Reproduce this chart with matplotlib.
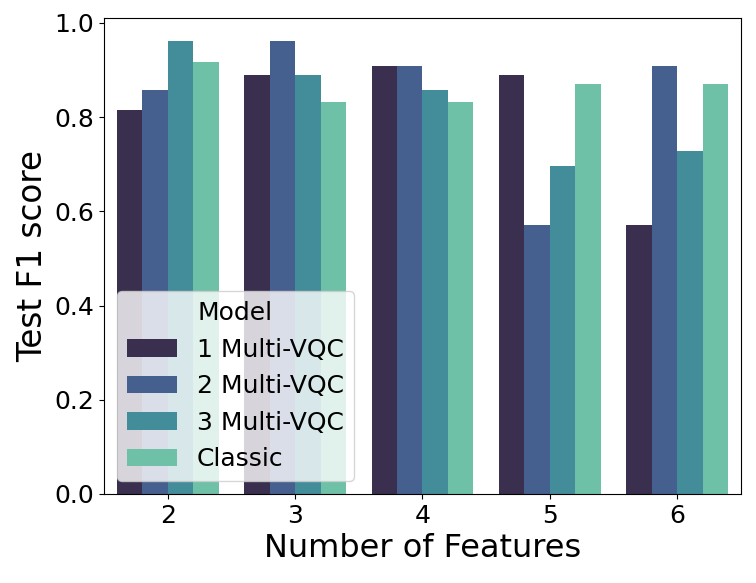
import matplotlib
matplotlib.use("Agg")
import matplotlib.pyplot as plt
import seaborn as sns
import pandas as pd

features = [2, 3, 4, 5, 6]
models = ["1 Multi-VQC", "2 Multi-VQC", "3 Multi-VQC", "Classic"]

vqc1 = [0.815, 0.889, 0.909, 0.889, 0.571]
vqc2 = [0.857, 0.962, 0.909, 0.571, 0.909]
vqc3 = [0.962, 0.889, 0.857, 0.696, 0.727]
classic = [0.917, 0.833, 0.833, 0.870, 0.870]

rows = []
for m, vals in zip(models, [vqc1, vqc2, vqc3, classic]):
    for f, v in zip(features, vals):
        rows.append({"Number of Features": f, "Model": m, "Test F1 score": v})
df = pd.DataFrame(rows)

fig, ax = plt.subplots(figsize=(7.56, 5.83), dpi=100)
sns.barplot(data=df, x="Number of Features", y="Test F1 score", hue="Model",
            hue_order=models, palette="mako", ax=ax)

ax.set_xlabel("Number of Features", fontsize=23)
ax.set_ylabel("Test F1 score", fontsize=23.5)
ax.tick_params(labelsize=18)
ax.legend(title="Model", fontsize=18, title_fontsize=18, loc="lower left")

plt.subplots_adjust(left=0.1376, right=0.980, top=0.969, bottom=0.1527)
plt.savefig("out.png", dpi=100)
